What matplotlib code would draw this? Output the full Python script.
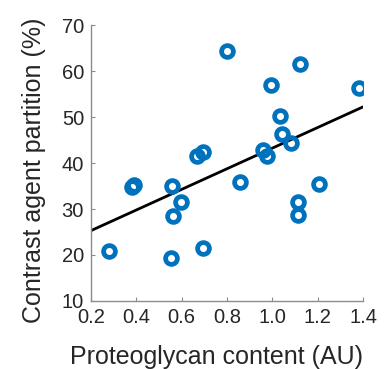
import matplotlib
matplotlib.use("Agg")
import matplotlib.pyplot as plt

# proteoglycan content (AU) vs contrast agent partition (%)
pg_content = [0.28, 0.38, 0.39, 0.556, 0.563, 0.553, 0.596, 0.666, 0.692, 0.692,
              0.798, 0.857, 0.957, 0.978, 0.994, 1.034, 1.043, 1.081, 1.122,
              1.115, 1.115, 1.206, 1.381]
partition = [20.9, 34.8, 35.2, 35.0, 28.5, 19.3, 31.6, 41.5, 42.5, 21.6,
             64.4, 35.8, 42.8, 41.5, 57.0, 50.2, 46.3, 44.3, 61.5,
             31.6, 28.8, 35.5, 56.2]

# regression line endpoints
fit_x = [0.2, 1.4]
fit_y = [25.3, 52.2]

x_ticks = [0.2, 0.4, 0.6, 0.8, 1.0, 1.2, 1.4]
x_tick_labels = ["0.2", "0.4", "0.6", "0.8", "1.0", "1.2", "1.4"]
y_ticks = [10, 20, 30, 40, 50, 60, 70]

plt.rcParams["font.family"] = ["Liberation Sans", "DejaVu Sans"]

fig = plt.figure(figsize=(3.88, 3.69), dpi=100)
ax = fig.add_axes([0.2345, 0.1843, 0.7011, 0.7479])

ax.plot(pg_content, partition, "o", markerfacecolor="none",
        markeredgecolor="#0072BD", markersize=8.5, markeredgewidth=3.4,
        linestyle="none", zorder=3)
ax.plot(fit_x, fit_y, color="black", linewidth=2.0, zorder=2)

ax.set_xlim(0.2, 1.4)
ax.set_ylim(10, 70)
ax.set_xticks(x_ticks)
ax.set_xticklabels(x_tick_labels)
ax.set_yticks(y_ticks)

for side in ["top", "right"]:
    ax.spines[side].set_visible(False)
for side in ["left", "bottom"]:
    ax.spines[side].set_color("#8c8c8c")
    ax.spines[side].set_linewidth(1.0)

ax.tick_params(direction="in", length=3, width=0.8, color="#8c8c8c",
               labelcolor="#262626", labelsize=14.5, pad=5)
ax.tick_params(axis="x", pad=5)

ax.set_xlabel("Proteoglycan content (AU)", fontsize=18, color="#262626")
ax.set_ylabel("Contrast agent partition (%)", fontsize=18, color="#262626")
ax.xaxis.set_label_coords(0.46, -0.16)
ax.yaxis.set_label_coords(-0.165, 0.475)

fig.savefig("out.png", dpi=100)
